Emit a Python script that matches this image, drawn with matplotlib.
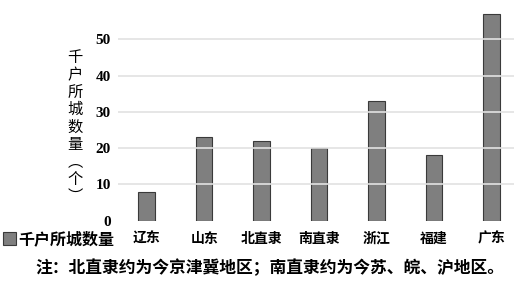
import matplotlib.pyplot as plt
from matplotlib.patches import Patch

plt.rcParams['font.family'] = ['Noto Sans CJK SC', 'DejaVu Sans']

regions = ['辽东', '山东', '北直隶', '南直隶', '浙江', '福建', '广东']
counts = [8, 23, 22, 20, 33, 18, 57]
yticks = [0, 10, 20, 30, 40, 50]
series_name = '千户所城数量'
ylabel_chars = ['千', '户', '所', '城', '数', '量', '︵', '个', '︶']
note = '注：北直隶约为今京津冀地区；南直隶约为今苏、皖、沪地区。'

W, H = 514, 282
fig = plt.figure(figsize=(W / 100, H / 100), dpi=100)
# axes: x from px 118 to ~520, y=0 at px 220.6, 60 at ~3
ax = fig.add_axes([118 / W, (H - 220.6) / H, 402 / W, 217.5 / H])

ax.bar(range(len(regions)), counts, width=0.29, color='#7f7f7f',
       edgecolor='#3a3a3a', linewidth=0.8, zorder=2)

ax.set_ylim(0, 60)
ax.set_xlim(-0.5, 6.5)
ax.set_yticks(yticks)
ax.set_yticklabels([str(t) for t in yticks], fontfamily='Liberation Serif',
                   fontweight='bold', fontsize=11)
ax.set_xticks(range(len(regions)))
ax.set_xticklabels(regions, fontsize=10, fontweight='bold')
ax.tick_params(axis='both', length=0)
ax.tick_params(axis='y', pad=5)
ax.tick_params(axis='x', pad=8)

for t in yticks[1:]:
    ax.axhline(t, color='#e2e2e2', linewidth=1.2, zorder=3)

for s in ax.spines.values():
    s.set_visible(False)

# vertical y label, one character per line
fig.text(75 / W, 1 - 127 / H, '\n'.join(ylabel_chars), fontsize=11,
         ha='center', va='center', linespacing=1.03)

fig.legend(handles=[Patch(facecolor='#7f7f7f', edgecolor='#3a3a3a', linewidth=0.8)],
           labels=[series_name], loc='center left',
           bbox_to_anchor=(0 / W, 1 - 239 / H), frameon=False,
           borderpad=0, borderaxespad=0.2, handlelength=0.8, handleheight=0.8,
           handletextpad=0.15, prop={'size': 11.5, 'weight': 'bold'})

fig.text(35 / W, 1 - 268 / H, note, fontsize=12.1, fontweight='bold',
         ha='left', va='center')

fig.savefig('out.png', dpi=100)
